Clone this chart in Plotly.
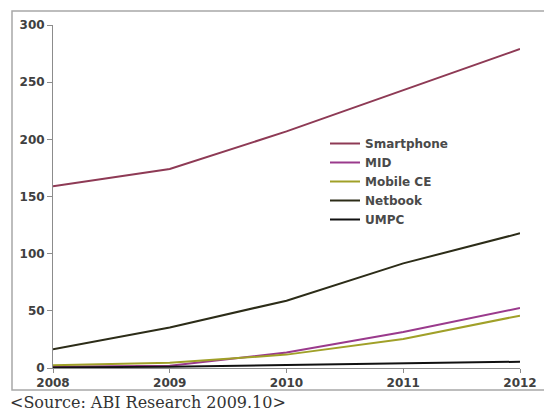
import plotly.graph_objects as go

years = [2008, 2009, 2010, 2011, 2012]
smartphone = [159, 174, 207, 243, 279]
mid = [1, 2, 13.5, 31.5, 52.5]
mobile_ce = [2.3, 4.5, 11.7, 25.4, 45.8]
netbook = [16.3, 35.5, 58.9, 91.5, 117.8]
umpc = [0.5, 1.2, 2.6, 4, 5.5]

series = [
    ("Smartphone", smartphone, "#8e3a55"),
    ("MID", mid, "#9a3a8c"),
    ("Mobile CE", mobile_ce, "#a0a028"),
    ("Netbook", netbook, "#2c2c18"),
    ("UMPC", umpc, "#111111"),
]

fig = go.Figure()
for name, vals, col in series:
    fig.add_trace(go.Scatter(x=years, y=vals, name=name, mode="lines",
                             line=dict(color=col, width=2)))

W, H = 544, 412
L, R, T, B = 53, 24, 25, 44
pw, ph = W - L - R, H - T - B

def px(x):
    return (x - L) / pw

def py(y):
    return (H - B - y) / ph

fig.add_shape(type="rect", xref="paper", yref="paper",
              x0=px(12), x1=px(546), y0=py(390), y1=py(11),
              line=dict(color="#a8a8a8", width=1.5), fillcolor="rgba(0,0,0,0)")

fig.add_annotation(xref="paper", yref="paper", x=px(8), y=py(403),
                   xanchor="left", yanchor="middle", showarrow=False,
                   text="&lt;Source: ABI Research 2009.10&gt;",
                   font=dict(family="DejaVu Serif", size=16, color="#333333"))

fig.update_layout(
    width=W, height=H,
    margin=dict(l=L, r=R, t=T, b=B, autoexpand=False),
    paper_bgcolor="white", plot_bgcolor="white",
    font=dict(family="DejaVu Sans", size=12, color="#404040"),
    showlegend=True,
    legend=dict(x=px(325), y=py(129), xanchor="left", yanchor="top",
                bgcolor="rgba(0,0,0,0)", borderwidth=0,
                font=dict(family="DejaVu Sans", size=12, color="#4a4a4a", weight="bold"),
                tracegroupgap=0, itemwidth=30),
    xaxis=dict(range=[2008, 2012], tickvals=years, ticktext=[str(y) for y in years],
               showgrid=False, zeroline=False, showline=True, linecolor="#8c8c8c",
               linewidth=1, ticks="outside", ticklen=4, tickcolor="#8c8c8c",
               tickfont=dict(family="DejaVu Sans", size=12, color="#404040", weight="bold"),
               fixedrange=True),
    yaxis=dict(range=[0, 300], tickvals=[0, 50, 100, 150, 200, 250, 300],
               showgrid=False, zeroline=False, showline=True, linecolor="#8c8c8c",
               linewidth=1, ticks="outside", ticklen=5, tickcolor="#8c8c8c",
               tickfont=dict(family="DejaVu Sans", size=12, color="#404040", weight="bold"),
               fixedrange=True),
)

fig.write_html("out.html")
